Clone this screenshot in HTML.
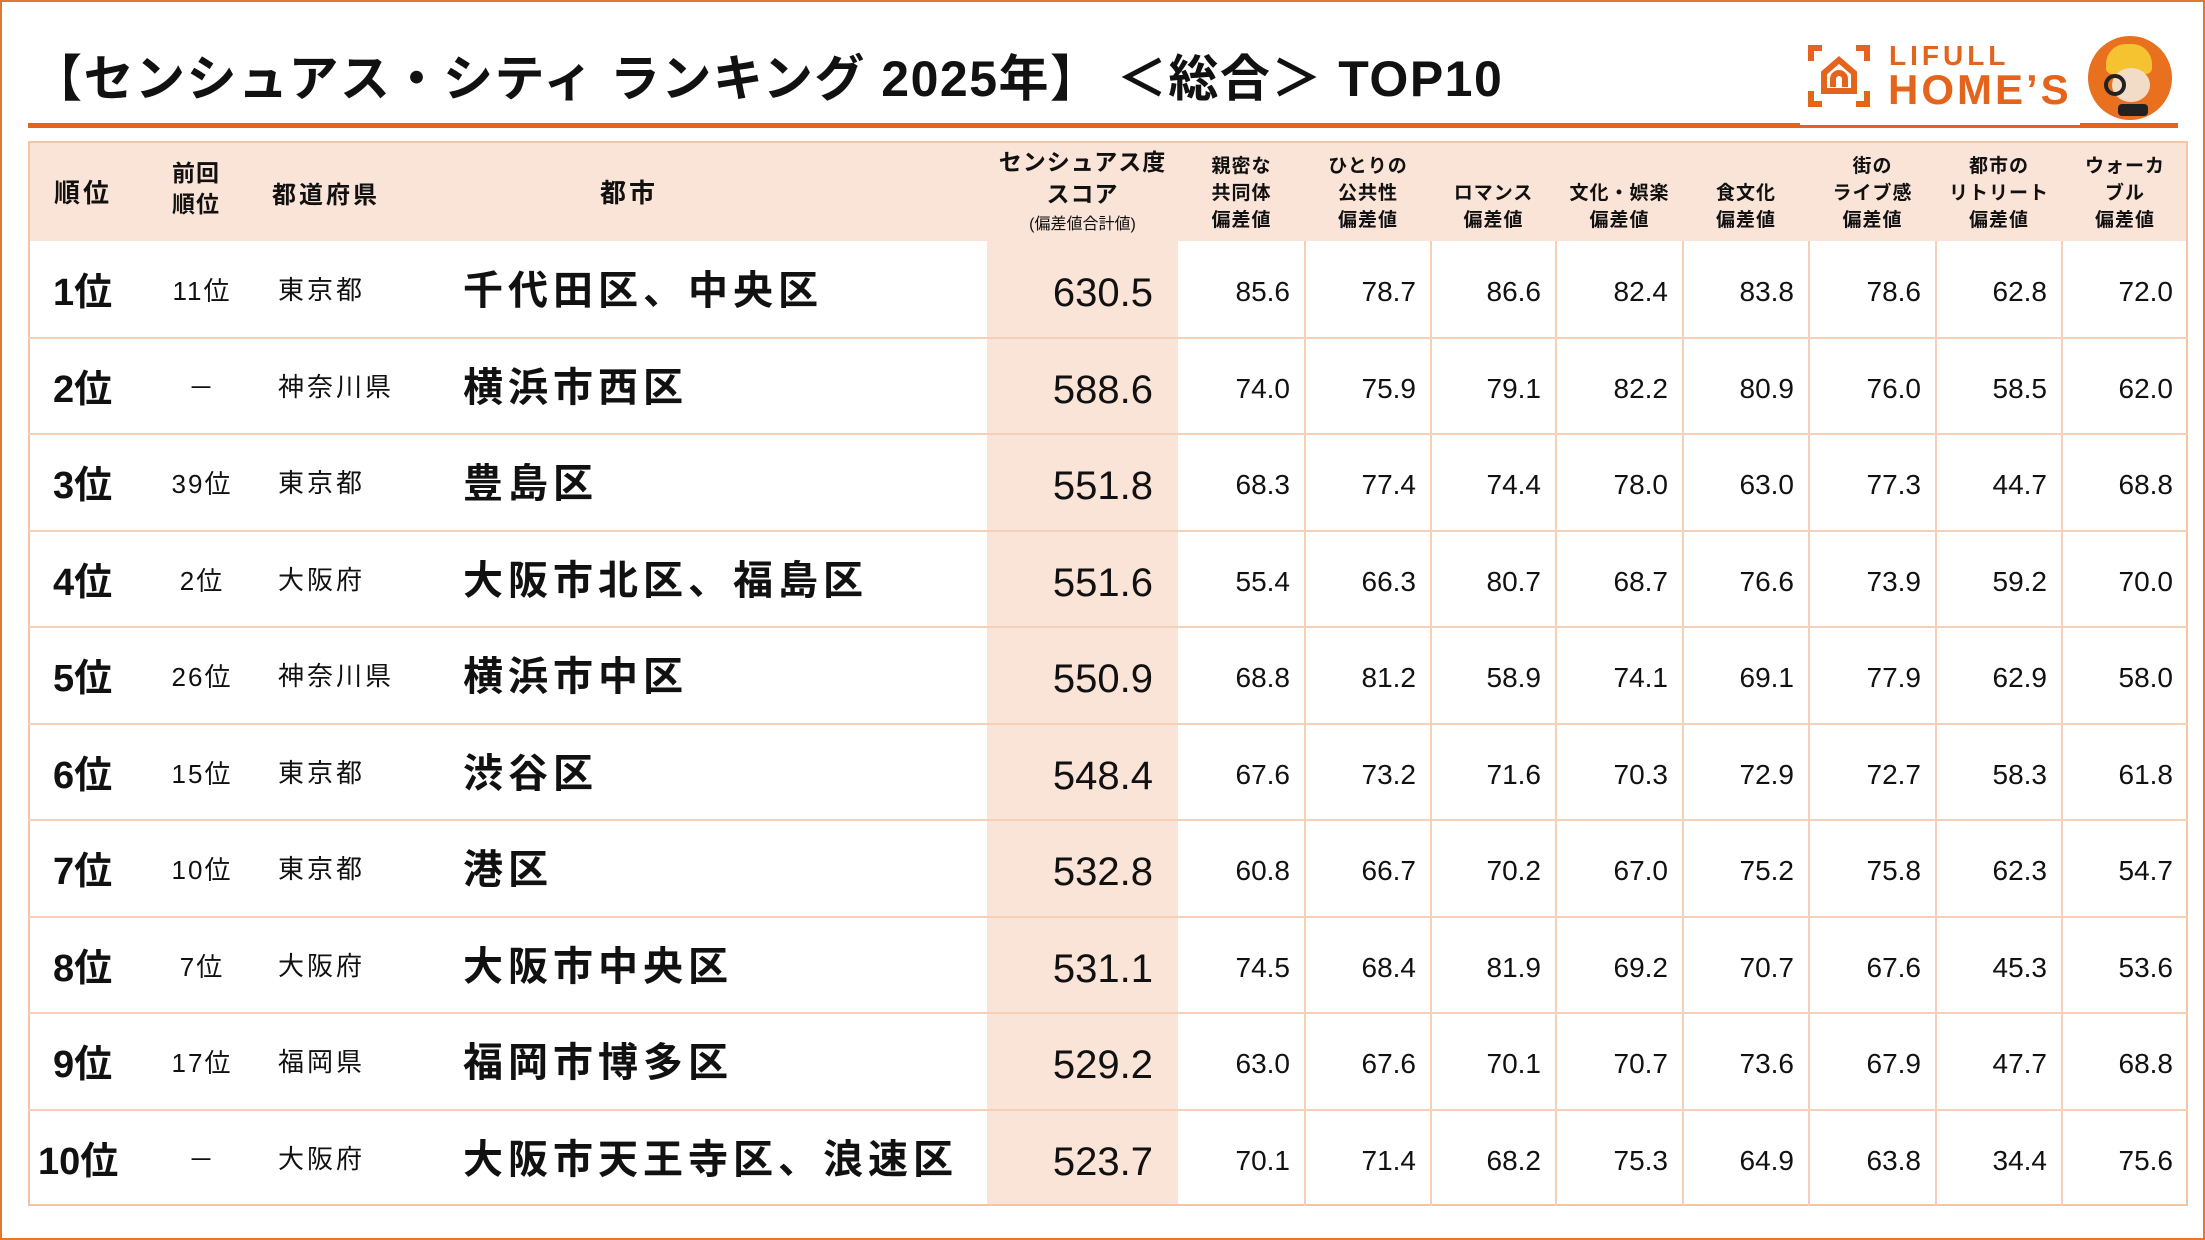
<!DOCTYPE html>
<html><head><meta charset="utf-8">
<style>
*{margin:0;padding:0;box-sizing:border-box}
body{width:2205px;height:1240px;background:#fff;position:relative;overflow:hidden;font-family:"Liberation Sans","Noto Sans CJK JP",sans-serif;color:#111}
.frame{position:absolute;left:0;top:0;width:2205px;height:1240px;border:2px solid #e0782f}
.t{position:absolute;white-space:nowrap}
.title{left:32px;top:39px;font-size:50px;font-weight:bold;letter-spacing:1.5px}
.line{position:absolute;left:28px;top:123px;width:2150px;height:5px;background:#e5641c}
.tbl{position:absolute;left:28px;top:141px;width:2160px;height:1065px;border:2px solid #f3c4a6}
.hdr{position:absolute;left:28px;top:141px;width:2160px;height:100px;background:#fae3d7}
.sc{position:absolute;left:987px;top:241px;width:191px;height:965px;background:#fae3d7}
.h{position:absolute;height:2px;background:#f5cfb6;left:28px;width:2160px}
.v{position:absolute;width:2px;background:#f5cfb6;top:241px;height:965px}
.hd{font-size:26px;font-weight:bold;letter-spacing:3px}
.hs{font-size:19px;font-weight:bold;text-align:center;line-height:27px;letter-spacing:1px}
.n{font-size:28px;text-align:right}
</style></head><body>
<div class="frame"></div>
<div class="t title">【センシュアス・シティ ランキング 2025年】 ＜総合＞ TOP10</div>
<div class="line"></div>
<div style="position:absolute;left:1800px;top:30px;width:280px;height:95px;background:#fff"></div>
<svg style="position:absolute;left:1808px;top:45px" width="62" height="62" viewBox="0 0 62 62" fill="none" stroke="#e5641c" stroke-width="6">
<path d="M14 3H3V16M48 3H59V16M3 46V59H14M59 46V59H48"/><path d="M16 46V28L31 15L46 28V46Z"/><path d="M25 42V34A6 6 0 0 1 37 34V42"/></svg>
<div class="t" style="left:1889px;top:40px;font-size:28px;font-weight:bold;color:#e5641c;letter-spacing:4px">LIFULL</div>
<div class="t" style="left:1888px;top:66px;font-size:42px;font-weight:bold;color:#e5641c;letter-spacing:3px">HOME’S</div>
<div style="position:absolute;left:2088px;top:36px;width:84px;height:84px;border-radius:50%;background:#e8701f"></div>
<div style="position:absolute;left:2106px;top:44px;width:46px;height:30px;border-radius:20px 20px 6px 6px;background:#f5c230"></div>
<div style="position:absolute;left:2112px;top:68px;width:38px;height:34px;border-radius:50%;background:#f2dcc8"></div>
<div style="position:absolute;left:2104px;top:74px;width:22px;height:22px;border-radius:50%;border:4px solid #222"></div>
<div style="position:absolute;left:2118px;top:104px;width:30px;height:12px;background:#222;border-radius:4px"></div>

<div class="hdr"></div>
<div class="sc"></div>
<div class="tbl"></div>
<div id="g"></div>
<div class="t hd" style="left:54px;top:173px">順位</div>
<div class="t hs" style="left:172px;top:158px;font-size:23px;line-height:31px">前回<br>順位</div>
<div class="t hd" style="left:272px;top:175px;font-size:24px">都道府県</div>
<div class="t hd" style="left:600px;top:173px">都市</div>
<div class="t hs" style="left:987px;top:146px;width:191px;font-size:23px;line-height:32px">センシュアス度<br>スコア</div>
<div class="t" style="left:987px;top:210px;width:191px;text-align:center;font-size:16px">(偏差値合計値)</div>
<script>
const B=[1178,1305,1431,1556,1683,1809,1936,2062,2188];
const H=[["親密な","共同体"],["ひとりの","公共性"],["","ロマンス"],["","文化・娯楽"],["","食文化"],["街の","ライブ感"],["都市の","リトリート"],["ウォーカ","ブル"]];
const R=[["1位","11位","東京都","千代田区、中央区","630.5",[85.6,78.7,86.6,82.4,83.8,78.6,62.8,72.0]],
["2位","－","神奈川県","横浜市西区","588.6",[74.0,75.9,79.1,82.2,80.9,76.0,58.5,62.0]],
["3位","39位","東京都","豊島区","551.8",[68.3,77.4,74.4,78.0,63.0,77.3,44.7,68.8]],
["4位","2位","大阪府","大阪市北区、福島区","551.6",[55.4,66.3,80.7,68.7,76.6,73.9,59.2,70.0]],
["5位","26位","神奈川県","横浜市中区","550.9",[68.8,81.2,58.9,74.1,69.1,77.9,62.9,58.0]],
["6位","15位","東京都","渋谷区","548.4",[67.6,73.2,71.6,70.3,72.9,72.7,58.3,61.8]],
["7位","10位","東京都","港区","532.8",[60.8,66.7,70.2,67.0,75.2,75.8,62.3,54.7]],
["8位","7位","大阪府","大阪市中央区","531.1",[74.5,68.4,81.9,69.2,70.7,67.6,45.3,53.6]],
["9位","17位","福岡県","福岡市博多区","529.2",[63.0,67.6,70.1,70.7,73.6,67.9,47.7,68.8]],
["10位","－","大阪府","大阪市天王寺区、浪速区","523.7",[70.1,71.4,68.2,75.3,64.9,63.8,34.4,75.6]]];
let s='';
for(let k=0;k<8;k++){const l=B[k],w=B[k+1]-B[k];
 s+=`<div class="t hs" style="left:${l}px;top:153px;width:${w}px">${H[k][0]}<br>${H[k][1]}<br>偏差値</div>`;
 if(k>0) s+=`<div class="v" style="left:${l-1}px"></div>`;}
for(let i=0;i<10;i++){const y=241+i*96.5;
 if(i>0) s+=`<div class="h" style="top:${y-1}px"></div>`;
 const r=R[i];
 s+=`<div class="t" style="left:${i==9?38:53}px;top:${y+20}px;font-size:38px;font-weight:bold">${r[0]}</div>`;
 s+=`<div class="t" style="left:150px;width:104px;text-align:center;top:${y+30}px;font-size:26px;letter-spacing:2px">${r[1]}</div>`;
 s+=`<div class="t" style="left:278px;top:${y+29}px;font-size:26px;letter-spacing:3px">${r[2]}</div>`;
 s+=`<div class="t" style="left:463px;top:${y+17}px;font-size:40px;font-weight:bold;letter-spacing:5px">${r[3]}</div>`;
 s+=`<div class="t" style="left:987px;width:166px;text-align:right;top:${y+30}px;font-size:40px">${r[4]}</div>`;
 for(let k=0;k<8;k++) s+=`<div class="t n" style="left:${B[k]}px;width:${B[k+1]-B[k]-15}px;top:${y+35}px">${r[5][k].toFixed(1)}</div>`;
}
document.getElementById('g').innerHTML=s;
</script>
</body></html>
